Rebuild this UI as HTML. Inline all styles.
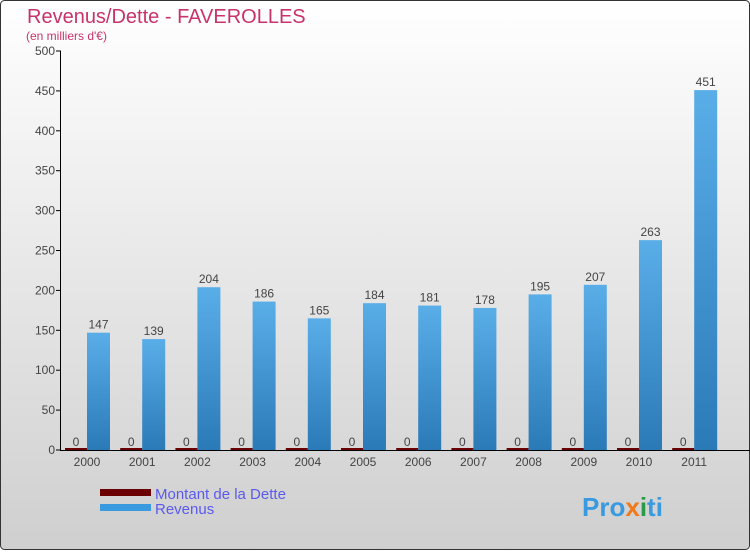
<!DOCTYPE html>
<html><head><meta charset="utf-8"><style>
html,body{margin:0;padding:0}
body{width:750px;height:550px;overflow:hidden;font-family:"Liberation Sans",sans-serif}
</style></head><body>
<svg width="750" height="550" xmlns="http://www.w3.org/2000/svg">
<defs>
<linearGradient id="bg" x1="0" y1="0" x2="0" y2="1"><stop offset="0" stop-color="#ffffff"/><stop offset="1" stop-color="#cfcfcf"/></linearGradient>
<linearGradient id="bar" x1="0" y1="0" x2="0" y2="1"><stop offset="0" stop-color="#5aaee8"/><stop offset="1" stop-color="#2a7ab8"/></linearGradient>
</defs>
<rect x="0.5" y="0.5" width="749" height="549" rx="4" fill="url(#bg)" stroke="#333"/>
<text x="27" y="23" font-size="20" fill="#c8336a">Revenus/Dette - FAVEROLLES</text>
<text x="26" y="40" font-size="12" fill="#c8336a">(en milliers d'€)</text>
<g id="plot"></g>
<g>
<rect x="100" y="489" width="51" height="7" fill="#6b0000"/>
<text x="155" y="499" font-size="15" fill="#5a5aee">Montant de la Dette</text>
<rect x="100" y="504" width="51" height="7" fill="#3a9ae0"/>
<text x="155" y="514" font-size="15" fill="#5a5aee">Revenus</text>
</g>
<text x="582" y="516" font-size="26" font-weight="bold" fill="#3a9ae0">Pro<tspan fill="#f07a1a">x</tspan><tspan fill="#2a9a4a">i</tspan>ti</text>
</svg>
<script>
const years=["2000","2001","2002","2003","2004","2005","2006","2007","2008","2009","2010","2011"];
const revenus=[147,139,204,186,165,184,181,178,195,207,263,451];
const dette=[0,0,0,0,0,0,0,0,0,0,0,0];
const yTicks=[0,50,100,150,200,250,300,350,400,450,500];
const NS="http://www.w3.org/2000/svg";
const g=document.getElementById('plot');
const y0=450,yTop=51,yMax=500;
const ys=v=>y0-(v/yMax)*(y0-yTop);
const xc=i=>87+i*55.2;
function el(t,a){const e=document.createElementNS(NS,t);for(const k in a)e.setAttribute(k,a[k]);g.appendChild(e);return e;}
yTicks.forEach(t=>{
 const l=el('line',{x1:56,x2:61,y1:ys(t),y2:ys(t),stroke:'#000'});
 
 
 const tx=el('text',{x:55,y:ys(t)+4,'text-anchor':'end','font-size':12,fill:'#444'});
 tx.textContent=t;
 
 
});
years.forEach((yr,i)=>{
 const c=xc(i);
 const d=el('rect',{x:c-22,y:ys(dette[i])-2,width:22,height:(y0-ys(dette[i]))+2,fill:'#6b0000'});
 
 
 const dl=el('text',{x:c-11,y:ys(dette[i])-4,'text-anchor':'middle','font-size':12,fill:'#444'});
 dl.textContent=dette[i];
 
 
 const r=el('rect',{x:c,y:ys(revenus[i]),width:23,height:y0-ys(revenus[i]),fill:'url(#bar)'});
 
 
 const rl=el('text',{x:c+11.5,y:ys(revenus[i])-4,'text-anchor':'middle','font-size':12,fill:'#444'});
 rl.textContent=revenus[i];
 
 
 const xl=el('text',{x:c,y:466,'text-anchor':'middle','font-size':12,fill:'#444'});
 xl.textContent=yr;
 
 
});
const ya=el('line',{x1:60.5,x2:60.5,y1:51,y2:450,stroke:'#000'});


const xa=el('line',{x1:60,x2:750,y1:450.5,y2:450.5,stroke:'#000'});


</script>
</body></html>
